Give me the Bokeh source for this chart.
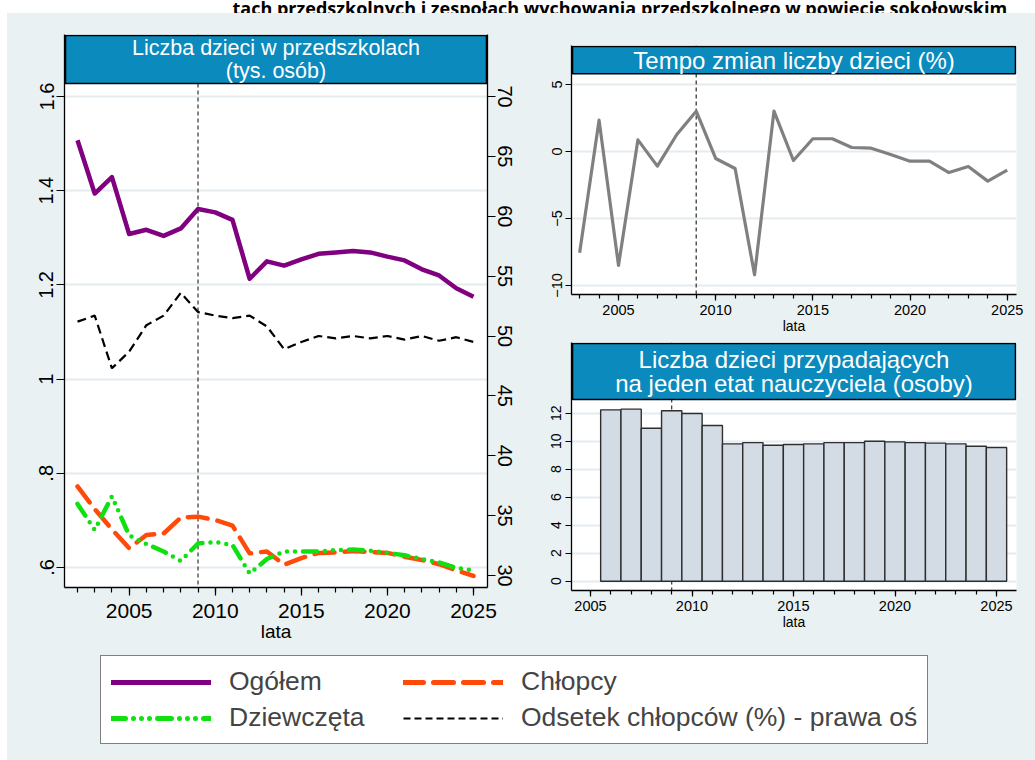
from bokeh.plotting import figure
from bokeh.models import Range1d, LinearAxis, FixedTicker, Span, Legend, LegendItem, Spacer
from bokeh.layouts import column, row
from bokeh.core.properties import value
from bokeh.embed import file_html
from bokeh.resources import INLINE

# ---------------- data ----------------
years = list(range(2002, 2026))
ogolem = [1.507, 1.394, 1.429, 1.308, 1.317, 1.304, 1.320, 1.361, 1.354, 1.338, 1.213, 1.250,
          1.241, 1.254, 1.266, 1.269, 1.272, 1.269, 1.260, 1.252, 1.233, 1.220, 1.193, 1.175]
chlopcy = [0.772, 0.724, 0.681, 0.641, 0.669, 0.672, 0.706, 0.708, 0.701, 0.689, 0.630, 0.634,
           0.606, 0.620, 0.631, 0.632, 0.635, 0.633, 0.631, 0.623, 0.616, 0.607, 0.594, 0.582]
dziewczeta = [0.735, 0.680, 0.751, 0.668, 0.650, 0.634, 0.614, 0.651, 0.654, 0.648, 0.587, 0.618,
              0.634, 0.634, 0.634, 0.637, 0.638, 0.636, 0.631, 0.626, 0.618, 0.611, 0.599, 0.594]
odsetek = [51.2, 51.7, 47.3, 48.7, 50.9, 51.7, 53.6, 52.0, 51.7, 51.5, 51.7, 50.8,
           48.9, 49.5, 50.0, 49.8, 50.0, 49.8, 50.0, 49.7, 50.0, 49.6, 49.9, 49.5]

tempo_years = list(range(2003, 2026))
tempo = [-7.56, 2.34, -8.5, 0.87, -1.09, 1.27, 3.01, -0.52, -1.27, -9.2, 3.01, -0.67,
         0.95, 0.95, 0.30, 0.25, -0.22, -0.72, -0.72, -1.57, -1.12, -2.21, -1.39]

etat_years = list(range(2006, 2026))
etat = [12.24, 12.29, 10.93, 12.17, 11.98, 11.12, 9.81, 9.90, 9.71, 9.76, 9.81, 9.90,
        9.90, 10.0, 9.95, 9.90, 9.86, 9.81, 9.64, 9.55]

marker_year = 2009
x_major = [2005, 2010, 2015, 2020, 2025]
left_ticks = [0.6, 0.8, 1.0, 1.2, 1.4, 1.6]
left_labels = [".6", ".8", "1", "1.2", "1.4", "1.6"]
right_ticks = [30, 35, 40, 45, 50, 55, 60, 65, 70]
tempo_ticks = [-10, -5, 0, 5]
etat_ticks = [0, 2, 4, 6, 8, 10, 12]

title_text = "tach przedszkolnych i zespołach wychowania przedszkolnego w powiecie sokołowskim"
t_left = "Liczba dzieci w przedszkolach\n(tys. osób)"
t_rt = "Tempo zmian liczby dzieci (%)"
t_rb = "Liczba dzieci przypadających\nna jeden etat nauczyciela (osoby)"
legend_labels = ["Ogółem", "Chłopcy", "Dziewczęta", "Odsetek chłopców (%) - prawa oś"]

# ---------------- style ----------------
FONT = "Liberation Sans"
BG = "#EAF1F3"
BAND = "#0A8ABD"
GRID = "#E4ECEF"
PURPLE = "#800080"
ORANGE = "#FF4A0A"
GREEN = "#10E010"
GREEN_DASH = "14 8 0 8 0 8 0 8"
ORANGE_DASH = "20 10"
BLACK_DASH = "9 5"


def base_fig(w, h, xr, yr, mb):
    p = figure(width=w, height=h, x_range=xr, y_range=yr, output_backend="svg",
               toolbar_location=None, min_border_left=mb[0], min_border_right=mb[1],
               min_border_top=mb[2], min_border_bottom=mb[3])
    p.border_fill_color = BG
    p.background_fill_color = "white"
    p.outline_line_color = None
    p.xgrid.grid_line_color = None
    p.ygrid.grid_line_color = GRID
    p.ygrid.grid_line_width = 2
    return p


def style_axis(ax, size, tick_out, minor_out, standoff, vertical=False):
    ax.axis_line_color = "black"
    ax.axis_line_width = 1.3
    ax.major_tick_line_color = "black"
    ax.major_tick_line_width = 1.2
    ax.minor_tick_line_color = "black"
    ax.minor_tick_line_width = 1.2
    ax.major_tick_in = 0
    ax.major_tick_out = tick_out
    ax.minor_tick_in = 0
    ax.minor_tick_out = minor_out
    ax.major_label_text_font = FONT
    ax.major_label_text_font_size = f"{size}px"
    ax.major_label_text_color = "black"
    ax.major_label_standoff = standoff
    ax.axis_label_text_font = FONT
    ax.axis_label_text_font_style = "normal"
    ax.axis_label_text_color = "black"
    if vertical:
        ax.major_label_orientation = "vertical"


def add_band(p, bottom, px_per_unit_y, px_per_unit_x, text, size, lh):
    x0 = p.x_range.start + 1.0 / px_per_unit_x
    x1 = p.x_range.end - 1.0 / px_per_unit_x
    top = p.y_range.end - 1.0 / px_per_unit_y
    p.quad(left=[x0], right=[x1], bottom=[bottom], top=[top], fill_color=BAND,
           line_color="black", line_width=1.6)
    p.text(x=[(p.x_range.start + p.x_range.end) / 2], y=[(bottom + top) / 2], text=[text],
           text_align="center", text_baseline="middle", text_color="white",
           text_font=value(FONT), text_font_size=f"{size}px", text_line_height=lh)


# ---------------- title strip (continuation line, cut at top) ----------------
ts = figure(width=1035, height=13, x_range=Range1d(0, 1035), y_range=Range1d(13, 0),
            output_backend="svg", toolbar_location=None, min_border=0)
ts.border_fill_color = "white"
ts.background_fill_color = "white"
ts.outline_line_color = None
ts.axis.visible = False
ts.grid.visible = False
ts.text(x=[232], y=[7.5], text=[title_text], text_align="left", text_baseline="alphabetic",
        text_font=value("Open Sans"), text_font_style="bold", text_font_size="18px",
        text_color="black")

# ---------------- left panel ----------------
# frame: x 64..487, y 34..587 (page px)
lp_y = 471.0          # px per unit, left axis
lp_x = 396.0 / 23     # px per year
yl0 = 0.6 - 20 / lp_y
yl1 = 1.6 + 62 / lp_y
rp_y = 479.0 / 40
yr0 = 30 - 12 / rp_y
yr1 = 70 + 62 / rp_y
xl0 = 2002 - 13 / lp_x
xl1 = 2025 + 14 / lp_x

left = base_fig(513, 637, Range1d(xl0, xl1), Range1d(yl0, yl1), (57, 33, 21, 63))
left.extra_y_ranges = {"pct": Range1d(yr0, yr1)}
right_ax = LinearAxis(y_range_name="pct")
left.add_layout(right_ax, "right")

style_axis(left.xaxis[0], 21, 8, 5, 8)
left.xaxis[0].ticker = FixedTicker(ticks=x_major, minor_ticks=years)
left.xaxis[0].axis_label = "lata"
left.xaxis[0].axis_label_text_font_size = "19px"
left.xaxis[0].axis_label_standoff = 0
style_axis(left.yaxis[0], 20, 8, 0, 3, vertical=True)
left.yaxis[0].ticker = FixedTicker(ticks=left_ticks)
left.yaxis[0].major_label_overrides = {t: l for t, l in zip(left_ticks, left_labels)}
style_axis(right_ax, 20, 8, 0, 2, vertical=True)
right_ax.ticker = FixedTicker(ticks=right_ticks)
left.ygrid.ticker = FixedTicker(ticks=left_ticks)

left.add_layout(Span(location=marker_year, dimension="height", line_color="#333333",
                     line_width=1.2, line_dash="4 3", level="underlay"))

left.line(years, odsetek, y_range_name="pct", line_color="black", line_width=2.2,
          line_dash=BLACK_DASH)
left.line(years, chlopcy, line_color=ORANGE, line_width=4.5, line_dash=ORANGE_DASH,
          line_cap="round", line_join="round")
left.line(years, dziewczeta, line_color=GREEN, line_width=4.5, line_dash=GREEN_DASH,
          line_cap="round", line_join="round")
left.line(years, ogolem, line_color=PURPLE, line_width=4.5, line_join="round")
add_band(left, 1.6 + 13 / lp_y, lp_y, lp_x, t_left, 21.5, 0.98)

# ---------------- right top panel ----------------
# frame: x 571..1016, y 45..294
rt_y = 13.4
rt_x = 388.7 / 20
rt = base_fig(515, 324, Range1d(2005 - 47 / rt_x, 2025 + 9.3 / rt_x),
              Range1d(-10 - 9 / rt_y, 5 + 39 / rt_y), (51, 19, 32, 43))
style_axis(rt.xaxis[0], 14.5, 6, 4, 4)
rt.xaxis[0].ticker = FixedTicker(ticks=x_major, minor_ticks=tempo_years)
rt.xaxis[0].axis_label = "lata"
rt.xaxis[0].axis_label_text_font_size = "14px"
rt.xaxis[0].axis_label_standoff = 0
style_axis(rt.yaxis[0], 14.5, 6, 0, 4, vertical=True)
rt.yaxis[0].ticker = FixedTicker(ticks=tempo_ticks)
rt.ygrid.ticker = FixedTicker(ticks=tempo_ticks)
rt.add_layout(Span(location=marker_year, dimension="height", line_color="#555555",
                   line_width=1.5, line_dash="4 3", level="underlay"))
rt.line(tempo_years, tempo, line_color="#808080", line_width=3.2, line_join="round")
add_band(rt, 5 + 10.7 / rt_y, rt_y, rt_x, t_rt, 24, 1.0)

# ---------------- right bottom panel ----------------
# frame: x 571..1016, y 342..590
rb_y = 14.0
rb_x = 20.3
rb = base_fig(515, 313, Range1d(2005 - 19 / rb_x, 2025 + 20 / rb_x),
              Range1d(-9.3 / rb_y, 12 + 70.7 / rb_y), (51, 19, 5, 60))
style_axis(rb.xaxis[0], 14.5, 6, 4, 4)
rb.xaxis[0].ticker = FixedTicker(ticks=x_major, minor_ticks=list(range(2005, 2026)))
rb.xaxis[0].axis_label = "lata"
rb.xaxis[0].axis_label_text_font_size = "14px"
rb.xaxis[0].axis_label_standoff = 0
style_axis(rb.yaxis[0], 14, 6, 0, 4, vertical=True)
rb.yaxis[0].ticker = FixedTicker(ticks=etat_ticks)
rb.ygrid.ticker = FixedTicker(ticks=etat_ticks)
rb.add_layout(Span(location=marker_year, dimension="height", line_color="#333333",
                   line_width=1.2, line_dash="4 3", level="underlay"))
rb.vbar(x=etat_years, top=etat, bottom=0, width=1.0, fill_color="#D3DCE4",
        line_color="#2E2E2E", line_width=1.4)
add_band(rb, 12 + 13.7 / rb_y, rb_y, rb_x, t_rb, 24, 0.9)

# ---------------- legend panel ----------------
lg = figure(width=1028, height=110, x_range=Range1d(0, 1), y_range=Range1d(0, 1),
            output_backend="svg", toolbar_location=None, min_border=0)
lg.border_fill_color = BG
lg.background_fill_color = BG
lg.outline_line_color = None
lg.axis.visible = False
lg.grid.visible = False
# legend sample renderers (series kept outside the visible range of this strip)
r1 = lg.line(years, ogolem, line_color=PURPLE, line_width=5, line_cap="round")
r2 = lg.line(years, chlopcy, line_color=ORANGE, line_width=5, line_dash=ORANGE_DASH,
             line_cap="round")
r3 = lg.line(years, dziewczeta, line_color=GREEN, line_width=5, line_dash=GREEN_DASH,
             line_cap="round")
r4 = lg.line(years, odsetek, line_color="black", line_width=2, line_dash="7 4")
legend = Legend(items=[LegendItem(label=legend_labels[0], renderers=[r1]),
                       LegendItem(label=legend_labels[2], renderers=[r3]),
                       LegendItem(label=legend_labels[1], renderers=[r2]),
                       LegendItem(label=legend_labels[3], renderers=[r4])],
                location=(93, 16), nrows=2, orientation="vertical",
                border_line_color="black", border_line_width=1.3,
                background_fill_color="white", background_fill_alpha=1.0,
                padding=10, spacing=5, margin=0, glyph_width=100, glyph_height=30,
                label_height=30, label_width=169, label_standoff=18,
                label_text_font=FONT, label_text_font_size="26.5px",
                label_text_baseline="middle")
lg.add_layout(legend, "center")

panel = column(row(left, column(rt, rb, styles={"background-color": BG}),
                   styles={"background-color": BG}),
               lg, styles={"background-color": BG})
body = row(Spacer(width=7, height=747), panel)
layout = column(ts, body)

open("out.html", "w").write(file_html(layout, INLINE))
